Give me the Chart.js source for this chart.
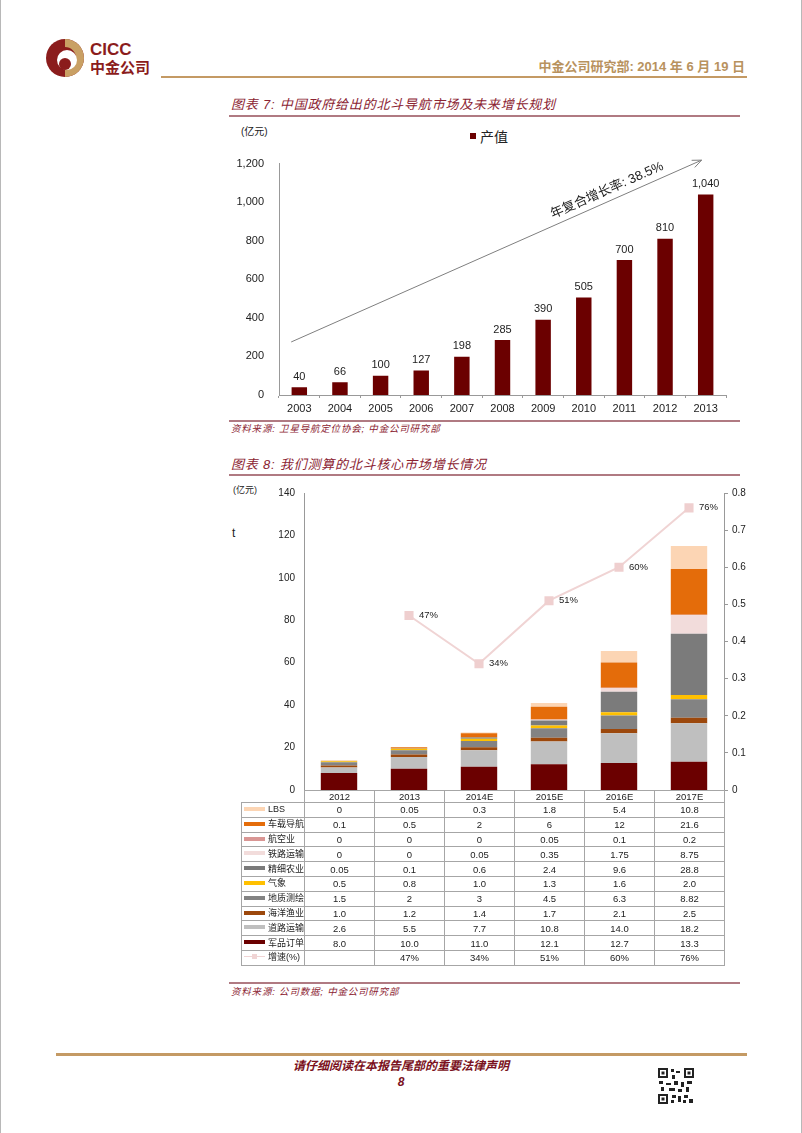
<!DOCTYPE html>
<html>
<head>
<meta charset="utf-8">
<script src="https://cdn.jsdelivr.net/npm/chart.js@4.4.0/dist/chart.umd.min.js"></script>
<style>
  body { margin: 0; background: #fff; }
  #page { position: relative; width: 800px; height: 1133px; overflow: hidden; border-left: 1px solid #b8b8b8; border-right: 1px solid #b8b8b8;
          font-family: "Liberation Sans", Arial, sans-serif; color: #222; }
  .abs { position: absolute; white-space: nowrap; }
  .cjk { font-family: "Liberation Sans", "Noto Sans CJK SC", sans-serif; }
  .title { font-style: italic; font-size: 13px; letter-spacing: 0.8px; color: #8b2332; line-height: 16px; }
  .src { font-style: italic; font-size: 9.5px; letter-spacing: 0.8px; color: #8b2332; line-height: 12px; }
  .rule { position: absolute; height: 2px; background: #b07a82; }
  #tbl { position: absolute; left: 240px; top: 790px; border-collapse: collapse; table-layout: fixed; font-size: 9.5px; }
  #tbl td { border: 1px solid #a6a6a6; padding: 0; height: 13.8px; text-align: center; line-height: 13px; overflow: hidden; white-space: nowrap; }
  #tbl tr.head td { height: 11px; line-height: 11px; }
  #tbl td.lg { text-align: left; padding-left: 2px; font-family: "Liberation Sans", "Noto Sans CJK SC", sans-serif; font-size: 9px; }
  .sw { display: inline-block; width: 21px; height: 4px; margin-right: 3px; vertical-align: middle; position: relative; top: -1px; }
</style>
</head>
<body>
<div id="page">
  <!-- header -->
  <svg class="abs" style="left:45px;top:39px" width="38" height="38" viewBox="0 0 38 38">
    <circle cx="19" cy="19" r="19" fill="#8b1c1c"/>
    <path d="M19,0 A19,19 0 0 1 19,38 L19,30 A11,11 0 0 0 19,8 Z" fill="#c9a064"/>
    <circle cx="21" cy="21" r="10" fill="#fff"/>
    <circle cx="19" cy="25" r="6" fill="#8b1c1c"/>
  </svg>
  <div class="abs" style="left:89px;top:41px;font-weight:bold;font-size:17px;line-height:17px;color:#8b1c1c">CICC</div>
  <div class="abs cjk" style="left:89px;top:59px;font-weight:bold;font-size:15px;line-height:17px;color:#8b1c1c">中金公司</div>
  <div class="abs cjk" style="right:56px;top:59px;font-weight:bold;font-size:13px;line-height:16px;color:#b8925e">中金公司研究部: 2014 年 6 月 19 日</div>
  <div class="abs" style="left:160px;top:76px;width:586px;height:2px;background:#c49a64"></div>

  <!-- chart 7 -->
  <div class="abs cjk title" style="left:230px;top:97px">图表 7: 中国政府给出的北斗导航市场及未来增长规划</div>
  <div class="rule" style="left:228px;top:115px;width:511px"></div>
  <div class="abs cjk" style="left:240px;top:125px;font-size:10px;line-height:13px">(亿元)</div>
  <div class="abs cjk" style="left:469px;top:128px;font-size:14px;line-height:18px"><span style="display:inline-block;width:6px;height:6px;background:#6b0000;margin-right:4px;vertical-align:middle;position:relative;top:-2px"></span>产值</div>
  <div class="abs" style="left:228px;top:142px;width:512px;height:278px"><canvas id="c1"></canvas></div>
  <div class="rule" style="left:228px;top:420px;width:511px"></div>
  <div class="abs cjk src" style="left:230px;top:423px">资料来源: 卫星导航定位协会; 中金公司研究部</div>

  <!-- chart 8 -->
  <div class="abs cjk title" style="left:230px;top:457px">图表 8: 我们测算的北斗核心市场增长情况</div>
  <div class="rule" style="left:228px;top:474px;width:511px"></div>
  <div class="abs cjk" style="left:232px;top:484px;font-size:9px;line-height:12px">(亿元)</div>
  <div class="abs" style="left:231px;top:526px;font-size:12px;line-height:14px">t</div>
  <div class="abs" style="left:228px;top:478px;width:530px;height:327px"><canvas id="c2"></canvas></div>
  <table id="tbl"></table>
  <div class="rule" style="left:228px;top:982px;width:511px"></div>
  <div class="abs cjk src" style="left:230px;top:986px">资料来源: 公司数据; 中金公司研究部</div>

  <!-- footer -->
  <div class="abs" style="left:55px;top:1053px;width:691px;height:3px;background:#c49a64"></div>
  <div class="abs cjk" style="left:400px;top:1059px;transform:translateX(-50%);font-style:italic;font-weight:bold;font-size:12px;line-height:15px;color:#7a1020">请仔细阅读在本报告尾部的重要法律声明</div>
  <div class="abs" style="left:400px;top:1075px;transform:translateX(-50%);font-style:italic;font-weight:bold;font-size:12px;line-height:15px;color:#7a1020">8</div>
  <svg class="abs" style="left:657px;top:1068px" width="36" height="36" viewBox="0 0 36 36">
    <g fill="#222">
      <rect x="0" y="0" width="10" height="10"/><rect x="26" y="0" width="10" height="10"/><rect x="0" y="26" width="10" height="10"/>
      <rect x="13" y="1" width="3" height="3"/><rect x="18" y="3" width="4" height="2"/><rect x="14" y="7" width="3" height="4"/>
      <rect x="1" y="13" width="4" height="3"/><rect x="8" y="15" width="5" height="2"/><rect x="16" y="13" width="4" height="4"/>
      <rect x="23" y="14" width="3" height="5"/><rect x="29" y="13" width="5" height="3"/><rect x="3" y="19" width="3" height="4"/>
      <rect x="11" y="20" width="6" height="3"/><rect x="20" y="21" width="4" height="3"/><rect x="28" y="19" width="3" height="5"/>
      <rect x="14" y="27" width="4" height="3"/><rect x="20" y="28" width="3" height="6"/><rect x="26" y="27" width="4" height="3"/>
      <rect x="31" y="31" width="4" height="4"/><rect x="13" y="32" width="3" height="3"/><rect x="25" y="32" width="3" height="3"/>
    </g>
    <g fill="#fff">
      <rect x="2" y="2" width="6" height="6"/><rect x="28" y="2" width="6" height="6"/><rect x="2" y="28" width="6" height="6"/>
    </g>
    <g fill="#222">
      <rect x="3.5" y="3.5" width="3" height="3"/><rect x="29.5" y="3.5" width="3" height="3"/><rect x="3.5" y="29.5" width="3" height="3"/>
    </g>
  </svg>
</div>

<script>
// ---- chart 7 data ----
const years7 = ['2003', '2004', '2005', '2006', '2007', '2008', '2009', '2010', '2011', '2012', '2013'];
const output7 = [40, 66, 100, 127, 198, 285, 390, 505, 700, 810, 1040];
const cagrLabel = '年复合增长率: 38.5%';

// ---- chart 8 data ----
const years8 = ['2012', '2013', '2014E', '2015E', '2016E', '2017E'];
const lbs      = [0, 0.05, 0.3, 1.8, 5.4, 10.8];
const vehicle  = [0.1, 0.5, 2, 6, 12, 21.6];
const aviation = [0, 0, 0, 0.05, 0.1, 0.2];
const rail     = [0, 0, 0.05, 0.35, 1.75, 8.75];
const agri     = [0.05, 0.1, 0.6, 2.4, 9.6, 28.8];
const weather  = [0.5, 0.8, 1.0, 1.3, 1.6, 2.0];
const survey   = [1.5, 2, 3, 4.5, 6.3, 8.82];
const fishery  = [1.0, 1.2, 1.4, 1.7, 2.1, 2.5];
const road     = [2.6, 5.5, 7.7, 10.8, 14.0, 18.2];
const military = [8.0, 10.0, 11.0, 12.1, 12.7, 13.3];
const growth   = [null, 0.47, 0.34, 0.51, 0.60, 0.76];

// stacking order bottom -> top: [name, values, colour, show one decimal]
const segments = [
  ['军品订单', military, '#6b0000', true],
  ['道路运输', road, '#bfbfbf', true],
  ['海洋渔业', fishery, '#9c480c', true],
  ['地质测绘', survey, '#838383', false],
  ['气象', weather, '#ffc000', true],
  ['精细农业', agri, '#7b7b7b', false],
  ['铁路运输', rail, '#f2dcdb', false],
  ['航空业', aviation, '#d99694', false],
  ['车载导航', vehicle, '#e46c0a', false],
  ['LBS', lbs, '#fcd5b4', false]
];
const growthColor = '#f0d4d4';

Chart.defaults.font.family = '"Liberation Sans", Arial, sans-serif';
Chart.defaults.color = '#222';
Chart.defaults.animation = false;

// value labels over bars + CAGR arrow
const chart7Extras = {
  id: 'chart7Extras',
  afterDatasetsDraw(chart) {
    const ctx = chart.ctx;
    const meta = chart.getDatasetMeta(0);
    ctx.save();
    ctx.font = '11px "Liberation Sans", Arial, sans-serif';
    ctx.fillStyle = '#222';
    ctx.textAlign = 'center';
    ctx.textBaseline = 'bottom';
    meta.data.forEach((bar, i) => {
      ctx.fillText(output7[i].toLocaleString('en-US'), bar.x, bar.y - 5);
    });

    const xs = chart.scales.x, ys = chart.scales.y;
    const x0 = xs.getPixelForValue(-0.2), y0 = ys.getPixelForValue(275);
    const x1 = xs.getPixelForValue(9.9), y1 = ys.getPixelForValue(1218);
    const ang = Math.atan2(y1 - y0, x1 - x0);
    ctx.strokeStyle = '#7f7f7f';
    ctx.lineWidth = 1;
    ctx.beginPath();
    ctx.moveTo(x0, y0);
    ctx.lineTo(x1, y1);
    ctx.moveTo(x1 - 10 * Math.cos(ang - 0.4), y1 - 10 * Math.sin(ang - 0.4));
    ctx.lineTo(x1, y1);
    ctx.lineTo(x1 - 10 * Math.cos(ang + 0.4), y1 - 10 * Math.sin(ang + 0.4));
    ctx.stroke();

    const t = 0.78;
    ctx.translate(x0 + (x1 - x0) * t, y0 + (y1 - y0) * t);
    ctx.rotate(ang);
    ctx.font = '13px "Liberation Sans", "Noto Sans CJK SC", sans-serif';
    ctx.textBaseline = 'alphabetic';
    ctx.fillText(cagrLabel, 0, -7);
    ctx.restore();
  }
};

new Chart(document.getElementById('c1'), {
  type: 'bar',
  data: {
    labels: years7,
    datasets: [{
      label: '产值',
      data: output7,
      backgroundColor: '#6b0000',
      categoryPercentage: 1,
      barPercentage: 0.38
    }]
  },
  options: {
    responsive: true,
    maintainAspectRatio: false,
    layout: { padding: { top: 8, right: 15, left: 0, bottom: 0 } },
    plugins: { legend: { display: false }, tooltip: { enabled: false } },
    scales: {
      x: {
        grid: { display: true, drawOnChartArea: false, tickLength: 3, color: '#999' },
        border: { color: '#999' },
        ticks: { font: { size: 11 }, padding: 4, maxRotation: 0 },
        afterFit(s) { s.height = 25; }
      },
      y: {
        min: 0, max: 1200,
        grid: { display: false, drawTicks: false },
        border: { color: '#999' },
        ticks: { stepSize: 200, font: { size: 11 }, padding: 15,
                 callback: v => v.toLocaleString('en-US') },
        afterFit(s) { s.width = 50; }
      }
    }
  },
  plugins: [chart7Extras]
});

// growth labels on line points
const growthLabels = {
  id: 'growthLabels',
  afterDatasetsDraw(chart) {
    const ctx = chart.ctx;
    const idx = chart.data.datasets.length - 1;
    const meta = chart.getDatasetMeta(idx);
    ctx.save();
    ctx.font = '9.5px "Liberation Sans", Arial, sans-serif';
    ctx.fillStyle = '#222';
    ctx.textAlign = 'left';
    ctx.textBaseline = 'middle';
    meta.data.forEach((pt, i) => {
      if (growth[i] == null) return;
      ctx.fillText(Math.round(growth[i] * 100) + '%', pt.x + 10, pt.y);
    });
    ctx.restore();
  }
};

const barSets = segments.map(([name, vals, color]) => ({
  type: 'bar',
  label: name,
  data: vals,
  backgroundColor: color,
  stack: 'market',
  yAxisID: 'y',
  categoryPercentage: 1,
  barPercentage: 0.52,
  order: 1
}));

new Chart(document.getElementById('c2'), {
  type: 'bar',
  data: {
    labels: years8,
    datasets: barSets.concat([{
      type: 'line',
      label: '增速(%)',
      data: growth,
      yAxisID: 'y1',
      borderColor: growthColor,
      borderWidth: 2,
      pointStyle: 'rect',
      pointRadius: 5,
      pointBackgroundColor: '#efcfcf',
      pointBorderColor: '#efcfcf',
      spanGaps: false,
      order: 0
    }])
  },
  options: {
    responsive: true,
    maintainAspectRatio: false,
    layout: { padding: { top: 13, right: 0, left: 0, bottom: 0 } },
    plugins: { legend: { display: false }, tooltip: { enabled: false } },
    scales: {
      x: {
        stacked: true,
        grid: { display: false },
        border: { color: '#999' },
        ticks: { display: false },
        afterFit(s) { s.height = 10; }
      },
      y: {
        stacked: true,
        position: 'left',
        min: 0, max: 140,
        grid: { display: false, drawTicks: false },
        border: { color: '#999' },
        ticks: { stepSize: 20, font: { size: 10 }, padding: 9 },
        afterFit(s) { s.width = 75; }
      },
      y1: {
        position: 'right',
        min: 0, max: 0.8,
        grid: { display: true, drawOnChartArea: false, tickLength: 4, color: '#999' },
        border: { color: '#999' },
        ticks: { stepSize: 0.1, font: { size: 10 }, padding: 4,
                 callback: v => v === 0 ? '0' : v.toFixed(1) },
        afterFit(s) { s.width = 35; }
      }
    }
  },
  plugins: [growthLabels]
});

// data table under chart 8 (rows top -> bottom)
const tbl = document.getElementById('tbl');
let html = '<colgroup><col style="width:63px">' + years8.map(() => '<col style="width:70px">').join('') + '</colgroup>';
html += '<tr class="head"><td style="border:none"></td>' + years8.map(y => '<td>' + y + '</td>').join('') + '</tr>';
segments.slice().reverse().forEach(([name, vals, color, oneDec]) => {
  html += '<tr><td class="lg"><span class="sw" style="background:' + color + '"></span>' + name + '</td>' +
    vals.map(v => '<td>' + (oneDec ? v.toFixed(1) : String(v)) + '</td>').join('') + '</tr>';
});
html += '<tr><td class="lg"><span class="sw" style="height:1px;background:' + growthColor + ';top:-1px">' +
  '<span style="position:absolute;left:8px;top:-2px;width:5px;height:5px;background:' + growthColor + '"></span></span>增速(%)</td>' +
  growth.map(g => '<td>' + (g == null ? '' : Math.round(g * 100) + '%') + '</td>').join('') + '</tr>';
tbl.innerHTML = html;
</script>
</body>
</html>
